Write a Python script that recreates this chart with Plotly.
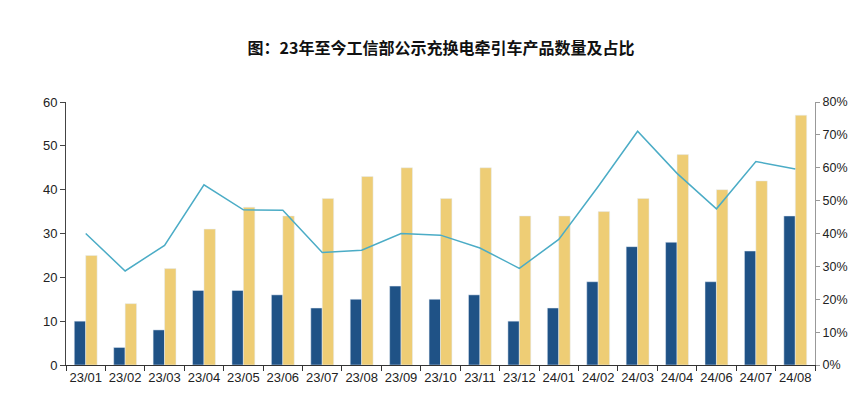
import plotly.graph_objects as go

categories = ["23/01", "23/02", "23/03", "23/04", "23/05", "23/06", "23/07", "23/08", "23/09", "23/10",
              "23/11", "23/12", "24/01", "24/02", "24/03", "24/04", "24/06", "24/07", "24/08"]
swap_count = [10, 4, 8, 17, 17, 16, 13, 15, 18, 15, 16, 10, 13, 19, 27, 28, 19, 26, 34]
total_count = [25, 14, 22, 31, 36, 34, 38, 43, 45, 38, 45, 34, 34, 35, 38, 48, 40, 42, 57]
share = [0.400, 0.286, 0.364, 0.548, 0.472, 0.471, 0.342, 0.349, 0.400, 0.395,
         0.356, 0.294, 0.382, 0.543, 0.711, 0.583, 0.475, 0.619, 0.596]

fig = go.Figure()
fig.add_trace(go.Bar(x=categories, y=swap_count, name="换电", marker=dict(color="#1f5286")))
fig.add_trace(go.Bar(x=categories, y=total_count, name="合计", marker=dict(color="#eecd75")))
fig.add_trace(go.Scatter(x=categories, y=share, name="占比", yaxis="y2", mode="lines",
                         line=dict(color="#4bacc6", width=1.5)))

tick_font = dict(family="Liberation Sans, Arial, sans-serif", size=13, color="#222222")
fig.update_layout(
    width=848, height=396,
    margin=dict(l=66, r=33, t=102, b=31),
    paper_bgcolor="white", plot_bgcolor="white",
    showlegend=False,
    barmode="group", bargap=0.42, bargroupgap=0,
    title=dict(text="<b>图：23年至今工信部公示充换电牵引车产品数量及占比</b>",
               x=0.52, xanchor="center", y=0.878, yanchor="middle",
               font=dict(family="Noto Sans CJK SC", size=16, color="#111111")),
    xaxis=dict(type="category", showgrid=False, showline=True, linecolor="#333333", linewidth=1,
               ticks="outside", tickson="boundaries", ticklen=5, tickcolor="#333333",
               tickfont=tick_font, tickangle=0, automargin=False,
               range=[-0.5, len(categories) - 0.5]),
    yaxis=dict(range=[0, 60], dtick=10, showgrid=False, showline=True, linecolor="#444444",
               linewidth=1, ticks="outside", ticklen=5, tickcolor="#444444", tickfont=tick_font,
               zeroline=False, automargin=False),
    yaxis2=dict(range=[0, 0.8], dtick=0.1, tickformat=".0%", overlaying="y", side="right",
                showgrid=False, showline=True, linecolor="#999999", linewidth=1,
                ticks="outside", ticklen=4, tickcolor="#999999",
                tickfont=dict(family="Liberation Sans, Arial, sans-serif", size=12.5, color="#222222"),
                zeroline=False, automargin=False),
)
fig.write_html("out.html", post_script="document.body.style.margin='0';",
               config={"displayModeBar": False})
